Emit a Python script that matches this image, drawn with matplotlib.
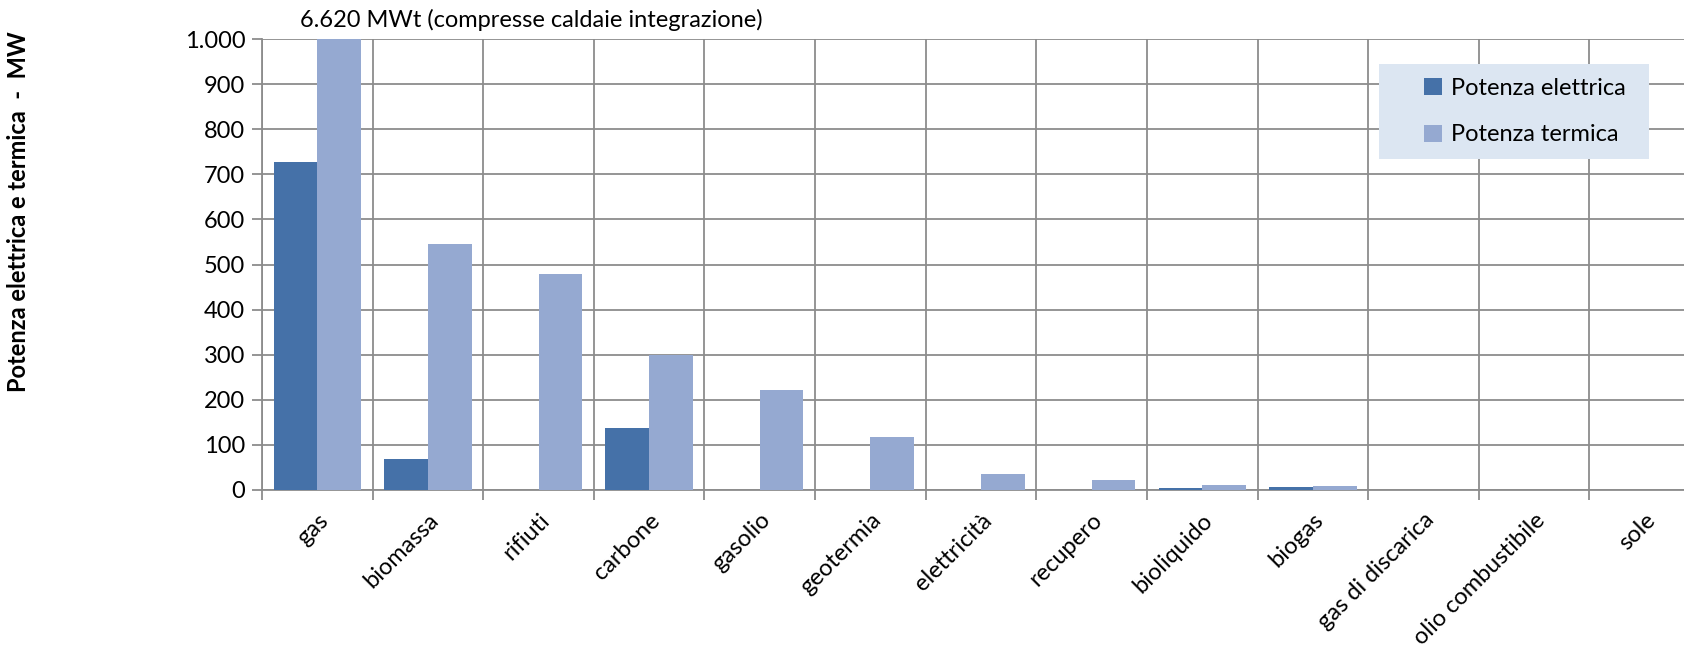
import matplotlib
matplotlib.use("Agg")
import matplotlib.pyplot as plt
import numpy as np
from matplotlib.ticker import FuncFormatter, FixedLocator
from matplotlib.patches import Patch

categories = ["gas", "biomassa", "rifiuti", "carbone", "gasolio", "geotermia",
              "elettricità", "recupero", "bioliquido", "biogas", "gas di discarica",
              "olio combustibile", "sole"]
potenza_elettrica = [727, 68, 0, 138, 0, 0, 0, 0, 4, 7, 0, 0, 0]
potenza_termica = [6620, 545, 478, 300, 222, 118, 35, 23, 10, 9, 0, 0, 0]
y_ticks = [0, 100, 200, 300, 400, 500, 600, 700, 800, 900, 1000]

plt.rcParams['font.family'] = ['Lato', 'DejaVu Sans']
FS = 17

fig = plt.figure(figsize=(16.84, 6.56), dpi=100)
ax = fig.add_axes([262/1684, 1-490/656, 1438/1684, 451/656])

x = np.arange(len(categories))
w = 0.395
c_el = "#4571A8"
c_th = "#95A9D1"
grid_c = "#8C8C8C"

ax.bar(x - w/2, potenza_elettrica, width=w, color=c_el, zorder=3)
ax.bar(x + w/2, potenza_termica, width=w, color=c_th, zorder=3)

ax.set_xlim(-0.5, len(categories) - 0.5)
ax.set_ylim(0, 1000)

ax.yaxis.set_major_locator(FixedLocator(y_ticks))
ax.yaxis.set_major_formatter(FuncFormatter(lambda v, p: f"{int(v):,}".replace(",", ".")))
ax.grid(axis='y', color=grid_c, linewidth=1.3, zorder=0)

ax.set_xticks(x)
ax.set_xticklabels(categories, rotation=45, ha='right', rotation_mode='anchor', fontsize=FS)
ax.set_xticks(np.arange(-0.5, len(categories) + 0.5, 1), minor=True)
ax.tick_params(axis='x', which='major', length=0, pad=14)
ax.tick_params(axis='x', which='minor', length=7, color=grid_c, width=1.3)
ax.grid(axis='x', which='minor', color=grid_c, linewidth=1.3, zorder=0)
ax.tick_params(axis='y', length=7, color=grid_c, width=1.3, labelsize=FS, pad=5)

for s in ['top', 'right']:
    ax.spines[s].set_visible(False)
for s in ['left', 'bottom']:
    ax.spines[s].set_color(grid_c)
    ax.spines[s].set_linewidth(1.3)

fig.text(19/1684, 1-212/656, "Potenza elettrica e termica  -  MW", rotation=90,
         fontsize=FS, fontweight='bold', ha='center', va='center')
fig.text(300/1684, 1-20/656, "6.620 MWt (compresse caldaie integrazione)",
         fontsize=FS, ha='left', va='center')

handles = [Patch(facecolor=c_el, label="Potenza elettrica"),
           Patch(facecolor=c_th, label="Potenza termica")]
leg = fig.legend(handles=handles, loc='center left',
                 bbox_to_anchor=(1424/1684, 1-159/656, 225/1684, 95/656),
                 frameon=False, fontsize=FS, handlelength=0.75,
                 handleheight=0.75, handletextpad=0.4, labelspacing=1.1,
                 borderpad=0, borderaxespad=0)
bg = plt.Rectangle((1379/1684, 1-159/656), 270/1684, 95/656, transform=fig.transFigure,
                   facecolor="#DCE6F2", edgecolor="none", zorder=5)
fig.add_artist(bg)
leg.set_zorder(6)

fig.savefig("out.png", dpi=100)
